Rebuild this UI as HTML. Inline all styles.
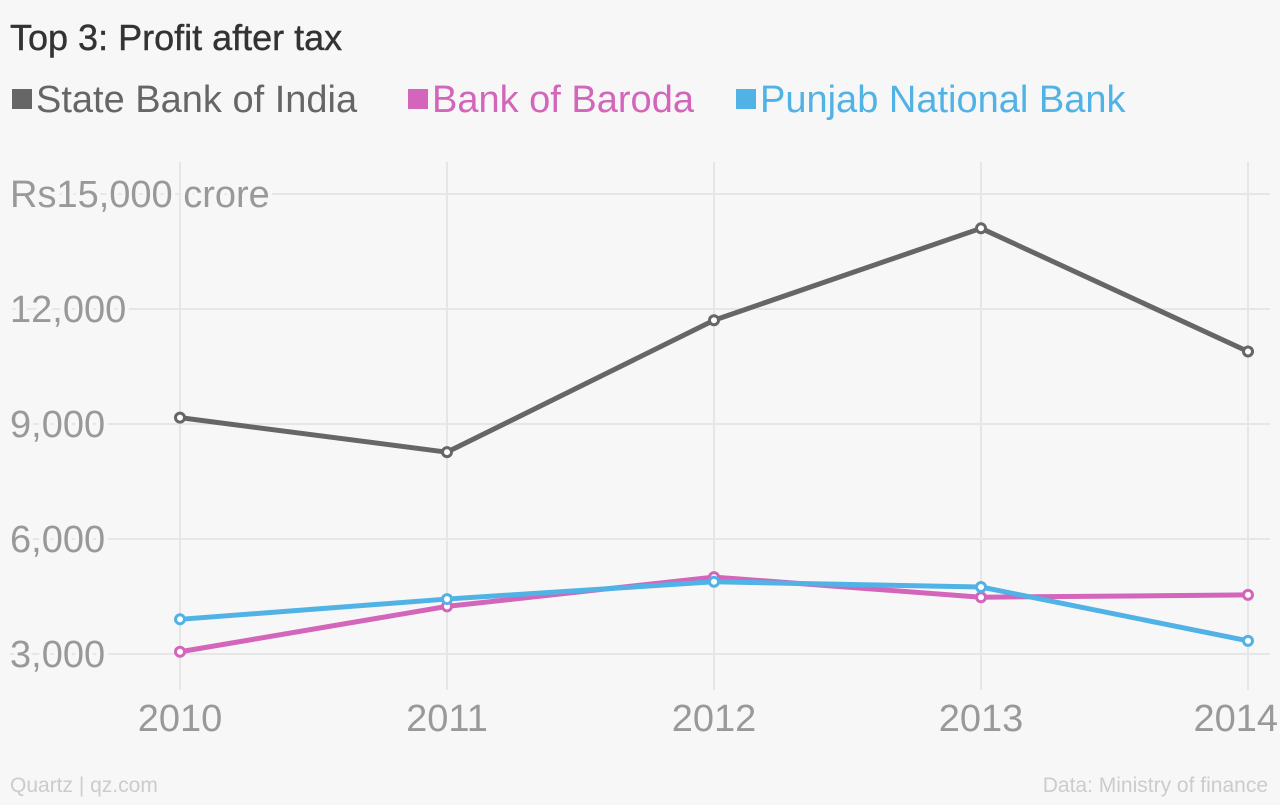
<!DOCTYPE html>
<html><head><meta charset="utf-8"><style>
body{margin:0;background:#f7f7f7;font-family:"Liberation Sans",sans-serif;}
svg text{font-family:"Liberation Sans",sans-serif;}
</style></head><body>
<svg id="c" width="1280" height="800" xmlns="http://www.w3.org/2000/svg">
<rect width="1280" height="800" fill="#f7f7f7"/>
<text x="10" y="50" font-size="36" fill="#333" stroke="#333" stroke-width="0.4">Top 3: Profit after tax</text>
<g>
<rect x="12" y="89" width="20" height="20" fill="#666"/>
<text x="36" y="112" font-size="38" fill="#666">State Bank of India</text>
<rect x="408" y="89" width="20" height="20" fill="#d365ba"/>
<text x="432" y="112" font-size="38" fill="#d365ba">Bank of Baroda</text>
<rect x="736" y="89" width="20" height="20" fill="#51b2e5"/>
<text x="760" y="112" font-size="38" fill="#51b2e5">Punjab National Bank</text>
</g>
<g id="grid"></g><g id="lines"></g>
<text x="10" y="792" font-size="21" fill="#ccc">Quartz | qz.com</text>
<text x="1268" y="792" font-size="21" fill="#ccc" text-anchor="end">Data: Ministry of finance</text>
</svg>
<script>
const years=["2010","2011","2012","2013","2014"];
const sbi=[9166,8265,11707,14105,10891];
const bob=[3058,4242,5007,4481,4541];
const pnb=[3905,4433,4884,4748,3343];
const yTicks=[3000,6000,9000,12000,15000];
const yTickLabels=["3,000","6,000","9,000","12,000","Rs15,000 crore"];
const NS="http://www.w3.org/2000/svg";
const x=i=>180+i*267;
const y=v=>654-(v-3000)/3000*115;
function mk(t,a,p){const e=document.createElementNS(NS,t);for(const k in a)e.setAttribute(k,a[k]);p.appendChild(e);return e;}
const g=document.getElementById('grid'),L=document.getElementById('lines');
years.forEach((yr,i)=>{
 const l=mk('line',{x1:x(i),x2:x(i),y1:162,y2:690,stroke:'#e6e6e6','stroke-width':2},g);
 
 
 const t=mk('text',{x:i==4?1278:x(i),y:731,'font-size':38,fill:'#999','text-anchor':i==4?'end':'middle'},g);
 t.textContent=yr;
 
 
});
yTicks.forEach((v,i)=>{
 const l=mk('line',{x1:10,x2:1270,y1:y(v),y2:y(v),stroke:'#e6e6e6','stroke-width':2},g);
 
 
 const t=mk('text',{x:10,y:y(v)+13,'font-size':38,fill:'#999',stroke:'#f7f7f7','stroke-width':8,'paint-order':'stroke'},g);
 t.textContent=yTickLabels[i];
 
 
});
[[sbi,'#666','sbi'],[bob,'#d365ba','bob'],[pnb,'#51b2e5','pnb']].forEach(([d,c,n])=>{
 const p=mk('polyline',{points:d.map((v,i)=>x(i)+','+y(v)).join(' '),fill:'none',stroke:c,'stroke-width':5,'stroke-linejoin':'round'},L);
 
 
 d.forEach((v,i)=>{
  const pt=mk('circle',{cx:x(i),cy:y(v),r:4.5,fill:'#fff',stroke:c,'stroke-width':3},L);
  
  
 });
});
</script>
</body></html>
